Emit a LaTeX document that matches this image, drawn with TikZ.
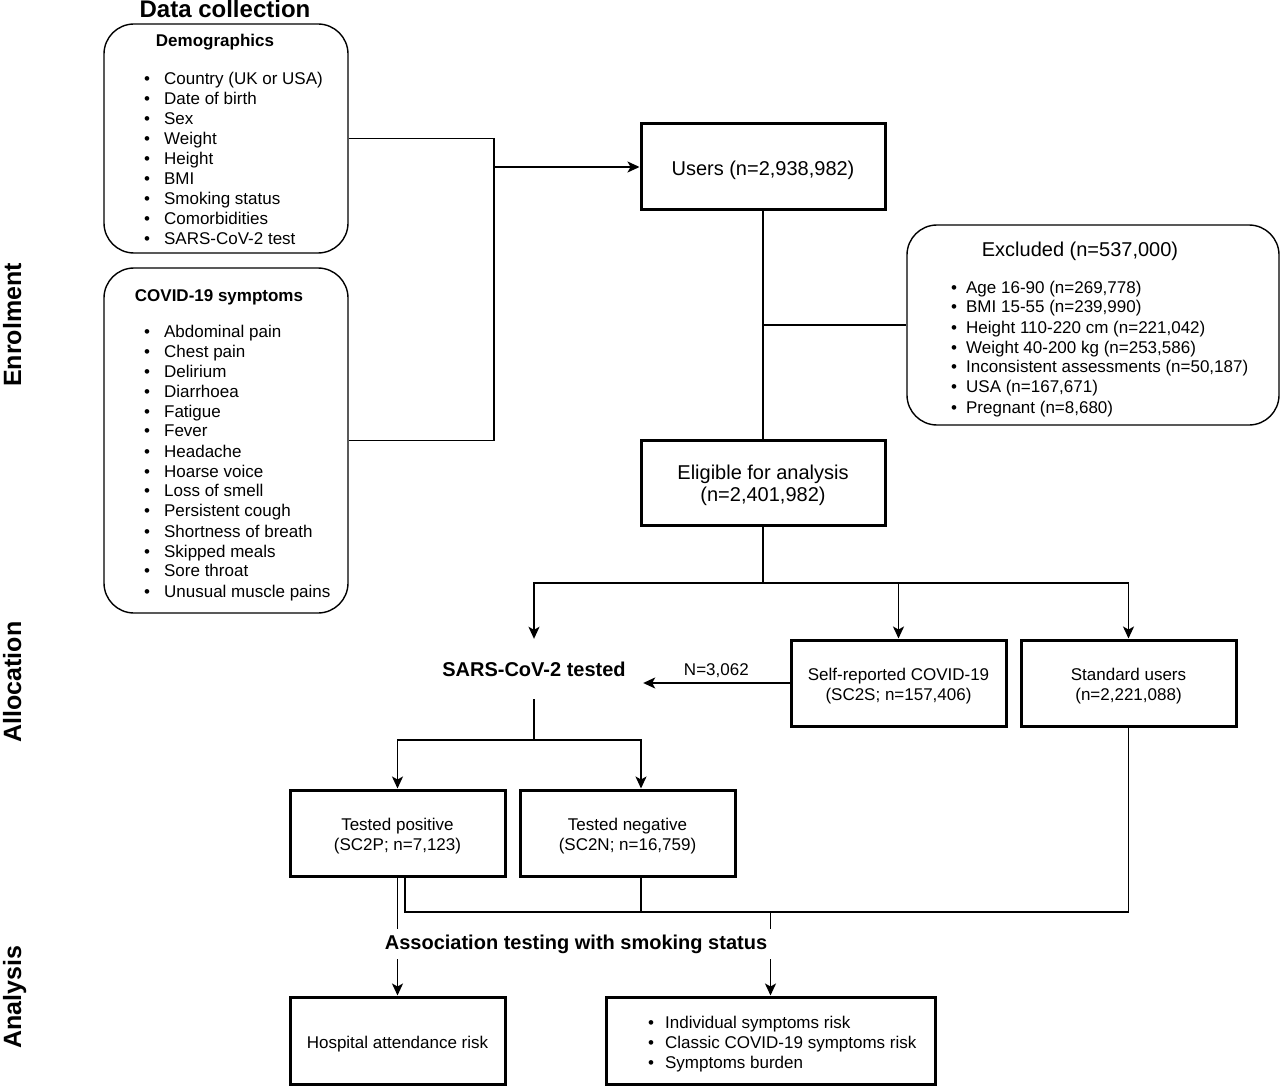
\documentclass[tikz,border=0pt]{standalone}
\usepackage{fontspec}
\setmainfont{Liberation Sans}
\usetikzlibrary{arrows.meta,calc}
\begin{document}
\begin{tikzpicture}[x=1pt,y=-1pt,
  conn/.style={line width=1.5pt},
  arr/.style={conn,-{Stealth[length=12pt,width=11pt,inset=3pt]}},
  sqbox/.style={draw,line width=3pt,inner sep=0pt},
  rbox/.style={draw,line width=1.4pt,rounded corners=30pt,inner sep=0pt},
  txt/.style={inner sep=0pt,align=center},
  f17/.style={font=\fontsize{17}{20}\selectfont},
  f17b/.style={font=\bfseries\fontsize{17}{20}\selectfont},
  f20/.style={font=\fontsize{20}{22}\selectfont},
  f20b/.style={font=\bfseries\fontsize{20}{22}\selectfont},
  lst/.style={f17,anchor=base west,inner sep=0pt},
  side/.style={font=\bfseries\fontsize{25}{25}\selectfont,rotate=90,anchor=base,inner sep=0pt}
]
\useasboundingbox (0,0) rectangle (1280,1086);
\fill[white] (0,0) rectangle (1280,1086);

% side labels
\node[side] (enr) at (21,325) {Enrolment};
\node[side] (allo) at (21,682) {Allocation};
\node[side] (ana) at (21,997) {Analysis};

% data collection
\node[font=\bfseries\fontsize{24}{24}\selectfont,anchor=base,inner sep=0pt] (dc) at (225,18) {Data collection};

\node[rbox,minimum width=244,minimum height=229] (demo) at (226,138.5) {};
\node[f17b,anchor=base,inner sep=0pt] (demot) at (215,47) {Demographics};
\node[lst] (demol) at (144,85) {\begin{tabular}[t]{@{}l@{\hspace{14pt}}l@{}}
• & Country (UK or USA)\\
• & Date of birth\\
• & Sex\\
• & Weight\\
• & Height\\
• & BMI\\
• & Smoking status\\
• & Comorbidities\\
• & SARS-CoV-2 test
\end{tabular}};

\node[rbox,minimum width=244,minimum height=345] (covid) at (226,440.5) {};
\node[f17b,anchor=base,inner sep=0pt] (covidt) at (219,301) {COVID-19 symptoms};
\node[lst] (covidl) at (144,337) {\begin{tabular}[t]{@{}l@{\hspace{14pt}}l@{}}
• & Abdominal pain\\
• & Chest pain\\
• & Delirium\\
• & Diarrhoea\\
• & Fatigue\\
• & Fever\\
• & Headache\\
• & Hoarse voice\\
• & Loss of smell\\
• & Persistent cough\\
• & Shortness of breath\\
• & Skipped meals\\
• & Sore throat\\
• & Unusual muscle pains
\end{tabular}};

% main flow
\node[sqbox,minimum width=244,minimum height=86] (users) at (763,167) {};
\node[txt,f20] (userst) at (763,170) {Users (n=2,938,982)};

\node[rbox,minimum width=372,minimum height=200] (excl) at (1093,325) {};
\node[f20,anchor=base,inner sep=0pt] (exclt) at (1080,256) {Excluded (n=537,000)};
\node[lst] (excll) at (951,293) {\begin{tabular}[t]{@{}l@{\hspace{9pt}}l@{}}
• & Age 16-90 (n=269,778)\\
• & BMI 15-55 (n=239,990)\\
• & Height 110-220 cm (n=221,042)\\
• & Weight 40-200 kg (n=253,586)\\
• & Inconsistent assessments (n=50,187)\\
• & USA (n=167,671)\\
• & Pregnant (n=8,680)
\end{tabular}};

\node[sqbox,minimum width=244,minimum height=85] (elig) at (763,482.5) {};
\node[txt,f20] (eligt) at (763,485.5) {Eligible for analysis\\(n=2,401,982)};

\node[f20b,minimum width=218,minimum height=60,inner sep=0pt] (sars) at (534,669) {SARS-CoV-2 tested};
\node[sqbox,minimum width=215,minimum height=86] (self) at (898.5,683) {};
\node[txt,f17] (selft) at (898.5,686) {Self-reported COVID-19\\(SC2S; n=157,406)};
\node[sqbox,minimum width=215,minimum height=86] (std) at (1128.5,683) {};
\node[txt,f17] (stdt) at (1128.5,686) {Standard users\\(n=2,221,088)};

\node[sqbox,minimum width=215,minimum height=86] (pos) at (397.5,833) {};
\node[txt,f17] (post) at (397.5,836) {Tested positive\\(SC2P; n=7,123)};
\node[sqbox,minimum width=215,minimum height=86] (neg) at (627.5,833) {};
\node[txt,f17] (negt) at (627.5,836) {Tested negative\\(SC2N; n=16,759)};

\node[sqbox,minimum width=215,minimum height=87] (hosp) at (397.5,1040.5) {};
\node[txt,f17] (hospt) at (397.5,1044) {Hospital attendance risk};
\node[sqbox,minimum width=329,minimum height=87] (right) at (770.5,1040.5) {};
\node[lst] (rightl) at (648,1028) {\begin{tabular}[t]{@{}l@{\hspace{11pt}}l@{}}
• & Individual symptoms risk\\
• & Classic COVID-19 symptoms risk\\
• & Symptoms burden
\end{tabular}};

% connectors
\coordinate (j) at (494,167);
\draw[conn] (demo.east) -| (j) |- (covid.east);
\draw[arr] (j) -- (users.west);

\draw[conn] (users.south) -- (elig.north);
\draw[conn] (users.south |- excl.west) -- (excl.west);

\coordinate (b) at (763,583);
\draw[conn] (elig.south) -- (b);
\draw[arr] (b) -| (sars.north);
\draw[arr] (b) -| (self.north);
\draw[arr] (b) -| (std.north);

\draw[arr] (self.west) -- node[f17,above=1pt] (nlab) {N=3,062} (self.west -| sars.east);

\coordinate (c) at (534,740);
\draw[conn] (sars.south) -- (c);
\coordinate (nt) at ([xshift=13.5pt]neg.north);
\coordinate (nbt) at ([xshift=13.5pt]neg.south);
\coordinate (pbt) at ([xshift=7.5pt]pos.south);
\draw[arr] (c) -| (pos.north);
\draw[arr] (c) -| (nt);

\coordinate (m) at (std.south |- 0,912);
\draw[conn] (std.south) -- (m) -| (pbt);
\draw[conn] (nbt) -- (nbt |- m);
\draw[arr] (right.north |- m) -- (right.north);
\draw[arr] (pos.south) -- (hosp.north);

\node[f20b,fill=white,inner xsep=4pt,inner ysep=0pt,minimum height=30] (assoc) at (576,944) {Association testing with smoking status};
\end{tikzpicture}
\end{document}
